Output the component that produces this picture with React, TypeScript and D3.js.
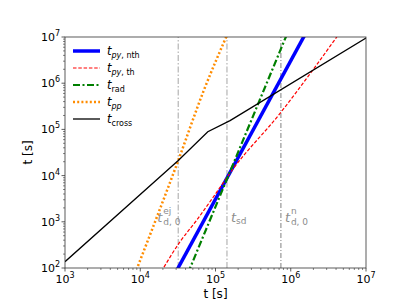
import * as d3 from 'd3';

// time grids and values (seconds)
const tPyNthT = [3.0e4, 1.7e6];
const tPyNthV = [84, 1.5e7];

const tPyThT = [1.9e4, 3.37e4, 5.62e4, 9.35e4, 1.72e5, 7.2e5, 2.0e6, 4.5e6];
const tPyThV = [83, 369, 1.08e3, 3.44e3, 1.41e4, 2.22e5, 2.01e6, 1.25e7];

const tRadT = [4.3e4, 9.2e5];
const tRadV = [77, 1.3e7];

const tPpT = [8.5e3, 3.2e4, 6.9e4, 1.45e5];
const tPpV = [75, 2.13e4, 6.6e5, 1.18e7];

const tCrossT = [1e3, 3.2e4, 7.9e4, 1.56e5, 1e7];
const tCrossV = [1.37e2, 2.13e4, 8.9e4, 1.55e5, 9.5e6];

const tEj = 3.2e4;
const tSd = 1.42e5;
const tN = 7.4e5;

const xTicks = [1e3, 1e4, 1e5, 1e6, 1e7];
const yTicks = [1e2, 1e3, 1e4, 1e5, 1e6, 1e7];

const W = 407;
const H = 305;
const m = { left: 65, right: 41, top: 37, bottom: 37 };

const FONT = 'DejaVu Sans';

function minorTicks(lo: number, hi: number) {
  const out: number[] = [];
  for (let d = lo; d < hi; d *= 10) for (let k = 2; k < 10; k++) out.push(d * k);
  return out;
}

export default function App() {
  const x = d3.scaleLog().domain([1e3, 1e7]).range([m.left, W - m.right]);
  const y = d3.scaleLog().domain([1e2, 1e7]).range([H - m.bottom, m.top]);
  const x0 = m.left, x1 = W - m.right, y0 = H - m.bottom, y1 = m.top;

  const smooth = d3
    .line<[number, number]>()
    .x((d) => x(d[0]))
    .y((d) => y(d[1]))
    .curve(d3.curveMonotoneX);
  const straight = d3
    .line<[number, number]>()
    .x((d) => x(d[0]))
    .y((d) => y(d[1]));
  const pts = (ts: number[], vs: number[]) => ts.map((t, i) => [t, vs[i]] as [number, number]);

  const series = [
    { key: 'nth', d: pts(tPyNthT, tPyNthV), color: '#0000ff', w: 3.5, dash: '', gen: straight },
    { key: 'th', d: pts(tPyThT, tPyThV), color: '#ff0000', w: 1.2, dash: '3.5,1.8', gen: smooth },
    { key: 'rad', d: pts(tRadT, tRadV), color: '#007f00', w: 2.2, dash: '7,2.5,2,2.5', gen: straight },
    { key: 'pp', d: pts(tPpT, tPpV), color: '#ff8c00', w: 2.5, dash: '2,2.2', gen: smooth },
    { key: 'cross', d: pts(tCrossT, tCrossV), color: '#000000', w: 1.3, dash: '', gen: straight },
  ];

  const legendRows = [
    { s: series[0], label: [{ t: 'py', it: true }, { t: ', nth', it: false }] },
    { s: series[1], label: [{ t: 'py', it: true }, { t: ', th', it: false }] },
    { s: series[2], label: [{ t: 'rad', it: false }] },
    { s: series[3], label: [{ t: 'pp', it: true }] },
    { s: series[4], label: [{ t: 'cross', it: false }] },
  ];

  const vlines = [
    { t: tEj, color: '#bfbfbf', w: 1.4, dash: '6,2,1.5,2' },
    { t: tSd, color: '#bfbfbf', w: 1.4, dash: '6,2,1.5,2' },
    { t: tN, color: '#808080', w: 1, dash: '5,2,1,2' },
  ];

  const exp = (v: number) => Math.round(Math.log10(v));

  return (
    <svg width={W} height={H} style={{ position: 'absolute', left: 0, top: 0 }} fontFamily={FONT}>
      <defs>
        <clipPath id="plot">
          <rect x={x0} y={y1} width={x1 - x0} height={y0 - y1} />
        </clipPath>
      </defs>
      <rect width={W} height={H} fill="#fff" />

      {vlines.map((v, i) => (
        <line key={i} x1={x(v.t)} x2={x(v.t)} y1={y0} y2={y1} stroke={v.color}
          strokeWidth={v.w} strokeDasharray={v.dash} />
      ))}

      <g fill="#8c8c8c">
        <text x={x(tEj) - 21} y={222} fontSize={13} fontStyle="italic">t</text>
        <text x={x(tEj) - 15} y={214} fontSize={9}>ej</text>
        <text x={x(tEj) - 15} y={225} fontSize={9}>d, 0</text>
        <text x={x(tSd) + 4} y={222} fontSize={13} fontStyle="italic">t</text>
        <text x={x(tSd) + 9} y={224} fontSize={9}>sd</text>
        <text x={x(tN) + 4} y={222} fontSize={13} fontStyle="italic">t</text>
        <text x={x(tN) + 10} y={214} fontSize={9}>n</text>
        <text x={x(tN) + 10} y={225} fontSize={9}>d, 0</text>
      </g>

      <g clipPath="url(#plot)">
        {series.map((s) => (
          <path key={s.key} d={s.gen(s.d) || ''} fill="none" stroke={s.color}
            strokeWidth={s.w} strokeDasharray={s.dash || undefined} />
        ))}
      </g>

      {/* legend */}
      {legendRows.map((r, i) => {
        const yy = 51 + i * 17;
        return (
          <g key={r.s.key}>
            <line x1={73} x2={100} y1={yy} y2={yy} stroke={r.s.color} strokeWidth={r.s.w}
              strokeDasharray={r.s.dash || undefined} />
            <text x={107} y={yy + 4} fontSize={11.5} fill="#000">
              <tspan fontStyle="italic">t</tspan>
              {r.label.map((p, j) => (
                <tspan key={j} fontSize={8} dy={j === 0 ? 3 : 0} fontStyle={p.it ? 'italic' : 'normal'}>
                  {p.t}
                </tspan>
              ))}
            </text>
          </g>
        );
      })}

      {/* frame */}
      <rect x={x0} y={y1} width={x1 - x0} height={y0 - y1} fill="none" stroke="#333" strokeWidth={0.8} />

      {/* x ticks */}
      {minorTicks(1e3, 1e7).map((v) => (
        <line key={'xm' + v} x1={x(v)} x2={x(v)} y1={y0} y2={y0 + 2} stroke="#333" strokeWidth={0.6} />
      ))}
      {xTicks.map((v) => (
        <g key={'x' + v}>
          <line x1={x(v)} x2={x(v)} y1={y0} y2={y0 + 3.5} stroke="#333" strokeWidth={0.8} />
          <text x={x(v)} y={283} fontSize={11} textAnchor="middle">
            <tspan>10</tspan>
            <tspan fontSize={8} dy={-5}>{exp(v)}</tspan>
          </text>
        </g>
      ))}

      {/* y ticks */}
      {minorTicks(1e2, 1e7).map((v) => (
        <line key={'ym' + v} x1={x0 - 2} x2={x0} y1={y(v)} y2={y(v)} stroke="#333" strokeWidth={0.6} />
      ))}
      {yTicks.map((v) => (
        <g key={'y' + v}>
          <line x1={x0 - 3.5} x2={x0} y1={y(v)} y2={y(v)} stroke="#333" strokeWidth={0.8} />
          <text x={x0 - 5} y={y(v) + 4} fontSize={11} textAnchor="end">
            <tspan>10</tspan>
            <tspan fontSize={8} dy={-5}>{exp(v)}</tspan>
          </text>
        </g>
      ))}

      <text x={(x0 + x1) / 2} y={298} fontSize={12} textAnchor="middle">t [s]</text>
      <text transform={`translate(32,${(y0 + y1) / 2}) rotate(-90)`} fontSize={12} textAnchor="middle">t [s]</text>
    </svg>
  );
}
